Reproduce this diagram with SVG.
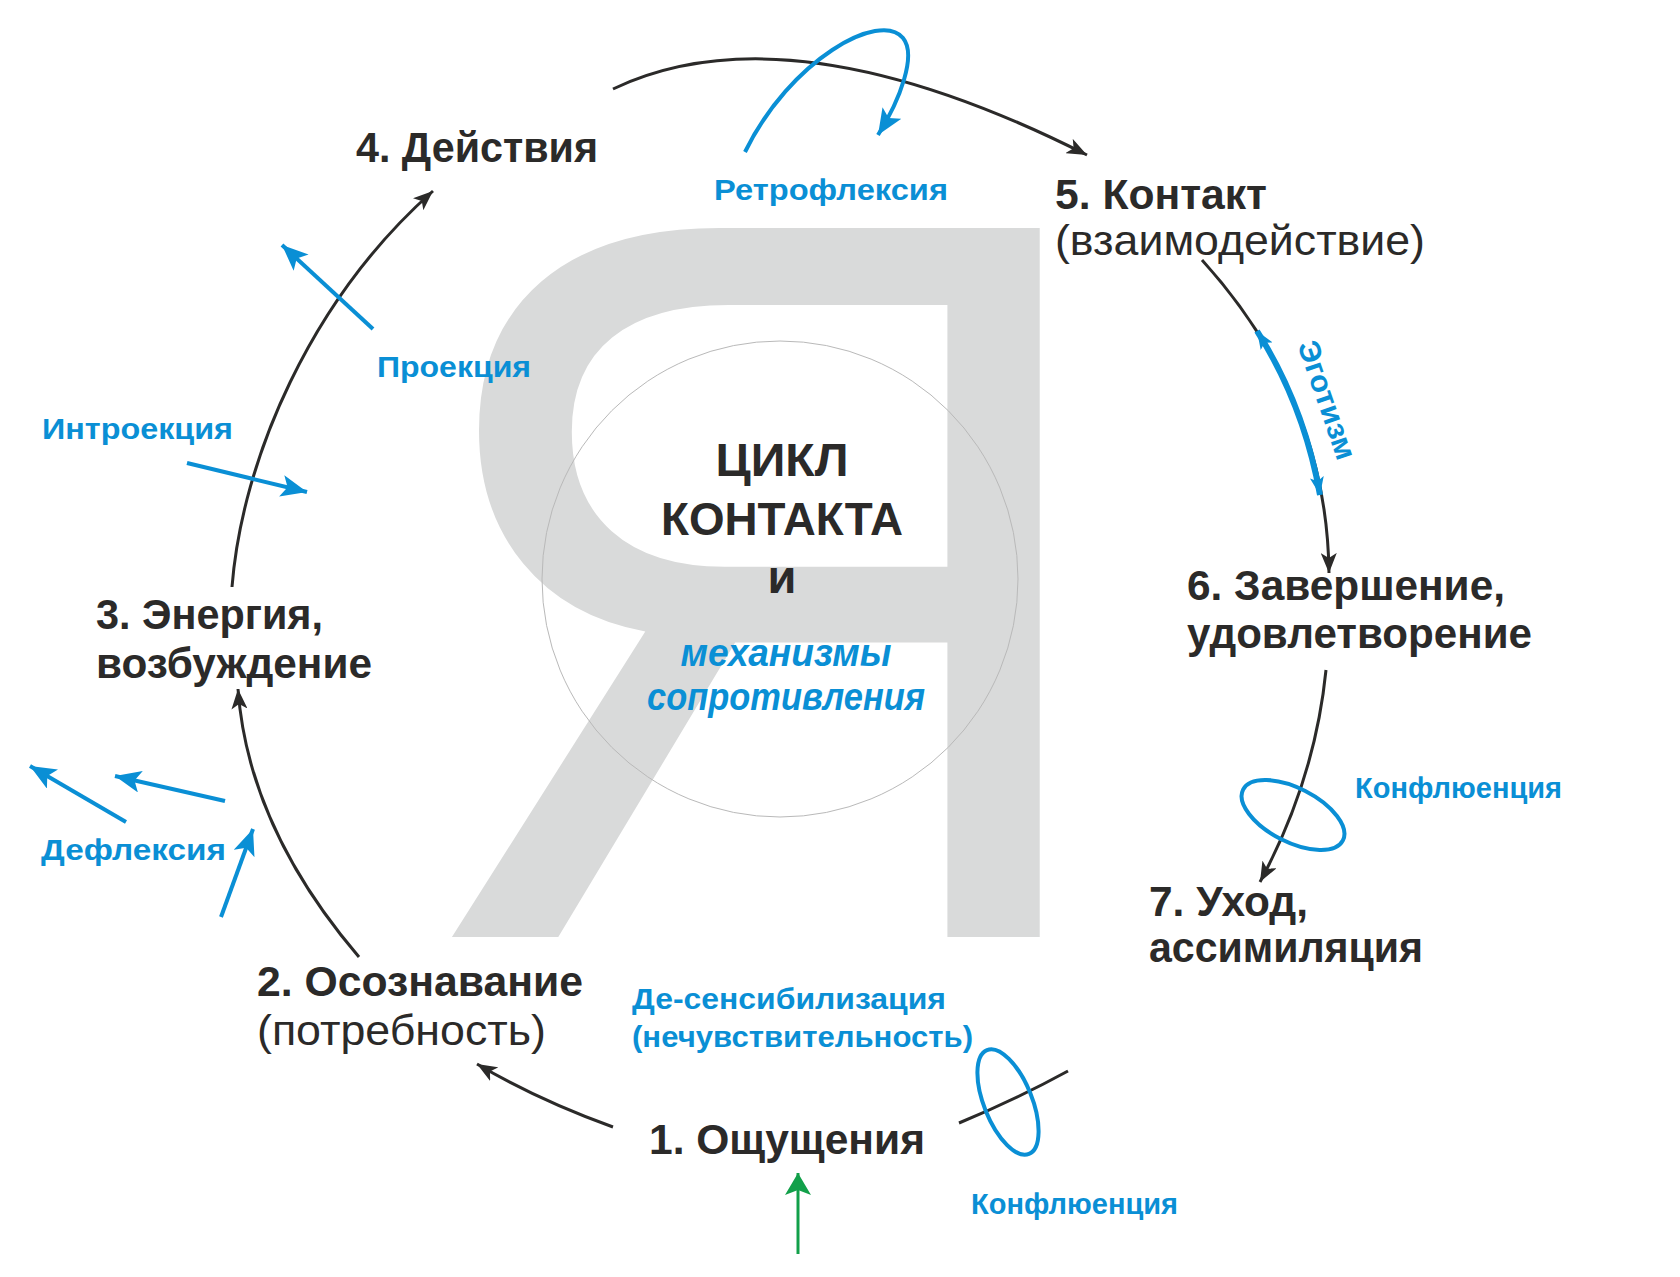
<svg xmlns="http://www.w3.org/2000/svg" width="1680" height="1277" viewBox="0 0 1680 1277">
<defs>
<style>
.node{font-family:"Liberation Sans",Arial,sans-serif;font-weight:bold;fill:#2b2a29;font-size:42px}
.sub{font-family:"Liberation Sans",Arial,sans-serif;font-weight:normal;fill:#2b2a29;font-size:43px}
.mech{font-family:"Liberation Sans",Arial,sans-serif;font-weight:bold;fill:#0a8fd5;font-size:30px}
.conn{fill:none;stroke:#2b2a29;stroke-width:3}
.blue{fill:none;stroke:#0a8fd5;stroke-width:4}
.title{font-family:"Liberation Sans",Arial,sans-serif;font-weight:bold;fill:#2b2a29;font-size:47px}
.titleb{font-family:"Liberation Sans",Arial,sans-serif;font-weight:bold;font-style:italic;fill:#0a8fd5;font-size:38px}
</style>
<marker id="ab" viewBox="0 0 20 16" refX="20" refY="8" markerWidth="20" markerHeight="16" markerUnits="userSpaceOnUse" orient="auto"><path d="M0,0 L20,8 L0,16 L5,8 Z" fill="#2b2a29"/></marker>
<marker id="abl" viewBox="0 0 26 22" refX="26" refY="11" markerWidth="26" markerHeight="22" markerUnits="userSpaceOnUse" orient="auto"><path d="M0,0 L26,11 L0,22 L6,11 Z" fill="#0a8fd5"/></marker>
<marker id="abls" viewBox="0 0 18 14" refX="18" refY="7" markerWidth="18" markerHeight="14" markerUnits="userSpaceOnUse" orient="auto-start-reverse"><path d="M0,0 L18,7 L0,14 L4,7 Z" fill="#0a8fd5"/></marker>
<marker id="ag" viewBox="0 0 22 26" refX="22" refY="13" markerWidth="22" markerHeight="26" markerUnits="userSpaceOnUse" orient="auto"><path d="M0,0 L22,13 L0,26 L5,13 Z" fill="#12a04a"/></marker>
</defs>
<rect width="1680" height="1277" fill="#ffffff"/>
<g id="background">
<text transform="translate(33,937) scale(1,1.041)" x="730" y="0" font-family="Liberation Sans, Arial, sans-serif" font-size="990" text-anchor="middle" fill="#d9dada">Я</text>
<circle cx="780" cy="579" r="238" fill="none" stroke="#b9b9b9" stroke-width="1"/>
</g>
<g id="center">
<text class="title" x="782" y="476" text-anchor="middle" textLength="133" lengthAdjust="spacingAndGlyphs">ЦИКЛ</text>
<text class="title" x="782" y="535" text-anchor="middle" textLength="242" lengthAdjust="spacingAndGlyphs">КОНТАКТА</text>
<text class="title" x="782" y="593" text-anchor="middle">и</text>
<text class="titleb" x="786" y="666" text-anchor="middle" textLength="211" lengthAdjust="spacingAndGlyphs">механизмы</text>
<text class="titleb" x="786" y="710" text-anchor="middle" textLength="278" lengthAdjust="spacingAndGlyphs">сопротивления</text>
</g>
<g id="connectors">
<path class="conn" d="M613,1127 Q538,1100 477,1064" marker-end="url(#ab)"/>
<path class="conn" d="M359,957 Q248,827 238,689" marker-end="url(#ab)"/>
<path class="conn" d="M232,587 C242,460 310,300 433,191" marker-end="url(#ab)"/>
<path class="conn" d="M613,89 Q790,5 1087,155" marker-end="url(#ab)"/>
<path class="conn" d="M1202,260 Q1327,398 1329,573" marker-end="url(#ab)"/>
<path class="conn" d="M1326,670 Q1315,780 1260,882" marker-end="url(#ab)"/>
<path class="conn" d="M959,1123 Q1015,1100 1068,1071"/>
<path d="M798,1254 L798,1173" stroke="#12a04a" stroke-width="3" marker-end="url(#ag)"/>
</g>
<g id="node1"><text class="node" x="649" y="1154" textLength="276" lengthAdjust="spacingAndGlyphs">1. Ощущения</text></g>
<g id="node2"><text class="node" x="257" y="996" textLength="326" lengthAdjust="spacingAndGlyphs">2. Осознавание</text><text class="sub" x="257" y="1045" textLength="289" lengthAdjust="spacingAndGlyphs">(потребность)</text></g>
<g id="node3"><text class="node" x="96" y="629" textLength="227" lengthAdjust="spacingAndGlyphs">3. Энергия,</text><text class="node" x="96" y="678" textLength="276" lengthAdjust="spacingAndGlyphs">возбуждение</text></g>
<g id="node4"><text class="node" x="356" y="162" textLength="242" lengthAdjust="spacingAndGlyphs">4. Действия</text></g>
<g id="node5"><text class="node" x="1055" y="209" textLength="212" lengthAdjust="spacingAndGlyphs">5. Контакт</text><text class="sub" x="1055" y="255" textLength="370" lengthAdjust="spacingAndGlyphs">(взаимодействие)</text></g>
<g id="node6"><text class="node" x="1187" y="600" textLength="318" lengthAdjust="spacingAndGlyphs">6. Завершение,</text><text class="node" x="1187" y="648" textLength="345" lengthAdjust="spacingAndGlyphs">удовлетворение</text></g>
<g id="node7"><text class="node" x="1149" y="916" textLength="159" lengthAdjust="spacingAndGlyphs">7. Уход,</text><text class="node" x="1149" y="962" textLength="274" lengthAdjust="spacingAndGlyphs">ассимиляция</text></g>
<g id="retroflexion">
<path class="blue" d="M745,152 C790,60 880,10 903,38 C917,55 900,100 878,135" marker-end="url(#abl)"/>
<text class="mech" x="714" y="200" textLength="234" lengthAdjust="spacingAndGlyphs">Ретрофлексия</text>
</g>
<g id="projection">
<path class="blue" d="M373,329 L282,245" marker-end="url(#abl)"/>
<text class="mech" x="377" y="377" textLength="154" lengthAdjust="spacingAndGlyphs">Проекция</text>
</g>
<g id="introjection">
<path class="blue" d="M187,463 L307,492" marker-end="url(#abl)"/>
<text class="mech" x="42" y="439" textLength="191" lengthAdjust="spacingAndGlyphs">Интроекция</text>
</g>
<g id="deflection">
<path class="blue" d="M126,822 L30,766" marker-end="url(#abl)"/>
<path class="blue" d="M225,801 L115,776" marker-end="url(#abl)"/>
<path class="blue" d="M221,917 L253,829" marker-end="url(#abl)"/>
<text class="mech" x="41" y="860" textLength="185" lengthAdjust="spacingAndGlyphs">Дефлексия</text>
</g>
<g id="egotism">
<path d="M1257,331 Q1304,405 1320,495" fill="none" stroke="#0a8fd5" stroke-width="6" marker-start="url(#abls)" marker-end="url(#abls)"/>
<text class="mech" transform="translate(1327,400) rotate(71)" y="10" text-anchor="middle" font-size="31" textLength="124" lengthAdjust="spacingAndGlyphs">Эготизм</text>
</g>
<g id="confluence1">
<ellipse cx="1293" cy="815" rx="56" ry="27" transform="rotate(27 1293 815)" class="blue"/>
<text class="mech" x="1355" y="798" font-size="27" textLength="207" lengthAdjust="spacingAndGlyphs">Конфлюенция</text>
</g>
<g id="confluence2">
<ellipse cx="1008" cy="1102" rx="24" ry="56" transform="rotate(-22 1008 1102)" class="blue"/>
<text class="mech" x="971" y="1214" font-size="27" textLength="207" lengthAdjust="spacingAndGlyphs">Конфлюенция</text>
</g>
<g id="desensitization">
<text class="mech" x="632" y="1009" textLength="314" lengthAdjust="spacingAndGlyphs">Де-сенсибилизация</text>
<text class="mech" x="632" y="1047" textLength="341" lengthAdjust="spacingAndGlyphs">(нечувствительность)</text>
</g>
</svg>
